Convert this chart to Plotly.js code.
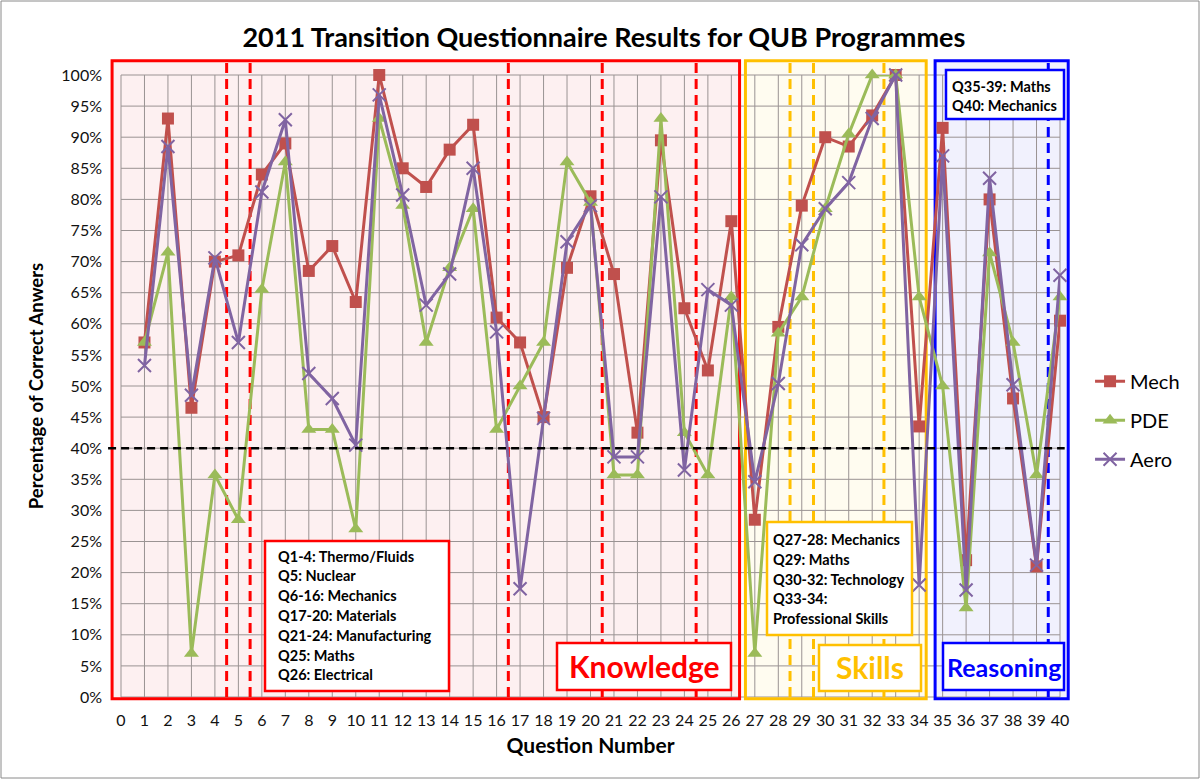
<!DOCTYPE html>
<html><head><meta charset="utf-8">
<script src="https://cdn.plot.ly/plotly-3.0.1.min.js"></script>
<style>body{margin:0;background:#fff}</style>
</head><body>
<div id="chart" style="width:1203px;height:781px"></div>
<script>
// ---------- data ----------
const questions = [1,2,3,4,5,6,7,8,9,10,11,12,13,14,15,16,17,18,19,20,21,22,23,24,25,26,27,28,29,30,31,32,33,34,35,36,37,38,39,40];
const mech = [57,93,46.5,70,71,84,89,68.5,72.5,63.5,100,85,82,88,92,61,57,45,69,80.5,68,42.5,89.5,62.5,52.5,76.5,28.5,59.5,79,90,88.5,93.5,100,43.5,91.5,22,80,48,21,60.5];
const pde = [57,71.5,7,35.7,28.5,65.5,86,43,43,27,93,79,57,69,78.5,43,50,57,86,79.5,35.7,35.7,93,42.5,35.7,64.3,7,58.5,64.3,78.5,90.5,100,100,64.3,50,14.3,71.4,57,35.7,64.3];
const aero = [53.3,88.5,48.5,70.6,57,81.2,92.8,52,48,40.5,96.8,80.7,63,68,85,58.7,17.4,44.8,73.2,79,38.6,38.6,80.4,36.5,65.5,63,34.6,50.4,72.7,78.5,82.7,93,100,18,87,17.2,83.4,50.2,21.2,67.8];
const xTickVals = [0,1,2,3,4,5,6,7,8,9,10,11,12,13,14,15,16,17,18,19,20,21,22,23,24,25,26,27,28,29,30,31,32,33,34,35,36,37,38,39,40];
const yTickVals = [0,5,10,15,20,25,30,35,40,45,50,55,60,65,70,75,80,85,90,95,100];
const yTickText = yTickVals.map(v => v + '%');
const passMark = 40;

const sectionNames = ['Knowledge','Skills','Reasoning'];
const knowledgeDividers = [4.5,5.5,16.5,20.5,24.5];
const skillsDividers = [28.5,29.5,32.5];
const reasoningDividers = [39.5];
const knowledgeTopics = ['Q1-4: Thermo/Fluids','Q5: Nuclear','Q6-16: Mechanics','Q17-20: Materials','Q21-24: Manufacturing','Q25: Maths','Q26: Electrical'];
const skillsTopics = ['Q27-28: Mechanics','Q29: Maths','Q30-32: Technology','Q33-34:','Professional Skills'];
const reasoningTopics = ['Q35-39: Maths','Q40: Mechanics'];

// ---------- styling / layout helpers ----------
const FONT = 'Lato, "Open Sans", sans-serif';
const W = 1203, H = 781;
const M = {l:121, r:143, t:75, b:84};
const XR = [0,40], YR = [0,100];
const PW = W - M.l - M.r, PH = H - M.t - M.b;
const px = p => (p - M.l) / PW;          // page pixel -> paper x
const py = p => (H - M.b - p) / PH;      // page pixel -> paper y
const dx = v => (v - XR[0]) / (XR[1] - XR[0]); // data -> paper
const dy = v => (v - YR[0]) / (YR[1] - YR[0]);

const secColors = ['#ff0000','#ffc000','#0000ff'];
const secFills = ['#fdf0f1','#fffcf0','#f1f1fd'];
const secX0 = [-0.38, 26.6, 34.68];
const secX1 = [26.35, 34.3, 40.35];
const boxTop = 102.3, boxBottom = -0.3;
const GRID = '#9a9393';

const shapes = [];
for (let i = 0; i < 3; i++) {
  shapes.push({type:'rect', xref:'paper', yref:'paper', x0:dx(secX0[i]), x1:dx(secX1[i]), y0:dy(boxBottom), y1:dy(boxTop),
    fillcolor:secFills[i], line:{width:0}, layer:'below'});
}
xTickVals.forEach(v => shapes.push({type:'line', xref:'paper', yref:'paper', x0:dx(v), x1:dx(v), y0:dy(YR[0]), y1:dy(YR[1]),
  line:{color:GRID, width:1}, layer:'below'}));
yTickVals.forEach(v => shapes.push({type:'line', xref:'paper', yref:'paper', x0:dx(XR[0]), x1:dx(XR[1]), y0:dy(v), y1:dy(v),
  line:{color:GRID, width:1}, layer:'below'}));
const dividerSets = [knowledgeDividers, skillsDividers, reasoningDividers];
dividerSets.forEach((set, i) => set.forEach(v => {
  shapes.push({type:'line', xref:'paper', yref:'paper', x0:dx(v), x1:dx(v), y0:dy(0), y1:dy(102.7),
    line:{color:secColors[i], width:3, dash:'10px,6px'}, layer:'below'});
}));
for (let i = 0; i < 3; i++) {
  shapes.push({type:'rect', xref:'paper', yref:'paper', x0:dx(secX0[i]), x1:dx(secX1[i]), y0:dy(boxBottom), y1:dy(boxTop),
    fillcolor:'rgba(0,0,0,0)', line:{color:secColors[i], width:3}, layer:'below'});
}
shapes.push({type:'line', xref:'paper', yref:'paper', x0:dx(-0.55), x1:dx(40.2), y0:dy(passMark), y1:dy(passMark),
  line:{color:'#000', width:2.5, dash:'8px,5px'}, layer:'above'});

const boxes = [
  {x0:265, x1:449, y0:541, y1:691, c:'#ff0000'},
  {x0:767, x1:912, y0:522, y1:635, c:'#ffc000'},
  {x0:946, x1:1064, y0:70, y1:119, c:'#0000ff'},
  {x0:557, x1:731, y0:643, y1:690, c:'#ff0000'},
  {x0:819, x1:921, y0:645, y1:691, c:'#ffc000'},
  {x0:943, x1:1064, y0:643, y1:690, c:'#0000ff'}
];
boxes.forEach(b => shapes.push({type:'rect', xref:'paper', yref:'paper', x0:px(b.x0), x1:px(b.x1), y0:py(b.y1), y1:py(b.y0),
  fillcolor:'#fff', line:{color:b.c, width:2.5}, layer:'above'}));
shapes.push({type:'rect', xref:'paper', yref:'paper', x0:px(1), x1:px(W-4), y0:py(H-3), y1:py(1),
  fillcolor:'rgba(0,0,0,0)', line:{color:'#8a8a8a', width:1}, layer:'above'});

const annotations = [];
const addLines = (lines, x, y0, step) => lines.forEach((t, i) => annotations.push({
  xref:'paper', yref:'paper', x:px(x), y:py(y0 + i*step), xanchor:'left', yanchor:'middle', showarrow:false,
  text:'<b>' + t + '</b>', font:{family:FONT, size:14.5, color:'#000'}
}));
addLines(knowledgeTopics, 276, 556, 19.8);
addLines(skillsTopics, 771, 539.5, 19.8);
addLines(reasoningTopics, 950, 86, 20);
const bigLabels = [
  {t:sectionNames[0], x:644, y:666, s:30, c:'#ff0000'},
  {t:sectionNames[1], x:870, y:667, s:30, c:'#ffc000'},
  {t:sectionNames[2], x:1003.5, y:666.5, s:25, c:'#0000ff'}
];
bigLabels.forEach(b => annotations.push({xref:'paper', yref:'paper', x:px(b.x), y:py(b.y), xanchor:'center', yanchor:'middle',
  showarrow:false, text:'<b>' + b.t + '</b>', font:{family:FONT, size:b.s, color:b.c}}));

const traces = [
  {name:'Mech', x:questions, y:mech, type:'scatter', mode:'lines+markers', legendgroup:'a', cliponaxis:false,
   line:{color:'#c0504d', width:3}, marker:{symbol:'square', size:12, color:'#c0504d'}},
  {name:'PDE', x:questions, y:pde, type:'scatter', mode:'lines+markers', legendgroup:'b', cliponaxis:false,
   line:{color:'#9bbb59', width:3}, marker:{symbol:'triangle-up', size:13, color:'#9bbb59'}},
  {name:'Aero', x:questions, y:aero, type:'scatter', mode:'lines+markers', legendgroup:'c', cliponaxis:false,
   line:{color:'#8064a2', width:3}, marker:{symbol:'x-thin', size:13, color:'#8064a2', line:{color:'#8064a2', width:2}}}
];

const layout = {
  width:W, height:H, margin:M,
  paper_bgcolor:'#fff', plot_bgcolor:'rgba(0,0,0,0)',
  font:{family:FONT, color:'#000'},
  title:{text:'<b>2011 Transition Questionnaire Results for QUB Programmes</b>', font:{family:FONT, size:27, color:'#000'},
    xref:'container', x:0.502, yref:'container', y:1 - 38/H, yanchor:'middle'},
  xaxis:{range:XR, tickmode:'array', tickvals:xTickVals, ticktext:xTickVals.map(String), showgrid:false,
    zeroline:false, showline:false, ticks:'', ticklabelstandoff:12, tickfont:{family:FONT, size:16, color:'#111'},
    title:{text:'<b>Question Number</b>', font:{family:FONT, size:21, color:'#000'}, standoff:10}},
  yaxis:{range:YR, tickmode:'array', tickvals:yTickVals, ticktext:yTickText, showgrid:false,
    zeroline:false, showline:false, ticks:'', ticklabelstandoff:18, tickfont:{family:FONT, size:16, color:'#111'},
    title:{text:'<b>Percentage of Correct Anwers</b>', font:{family:FONT, size:18.5, color:'#000'}, standoff:12}},
  legend:{x:1.032, y:0.445, xanchor:'left', yanchor:'middle', font:{family:FONT, size:20, color:'#000'}, tracegroupgap:10, bgcolor:'rgba(0,0,0,0)'},
  shapes:shapes, annotations:annotations
};
Plotly.newPlot('chart', traces, layout, {displayModeBar:false, responsive:false});
</script>
</body></html>
